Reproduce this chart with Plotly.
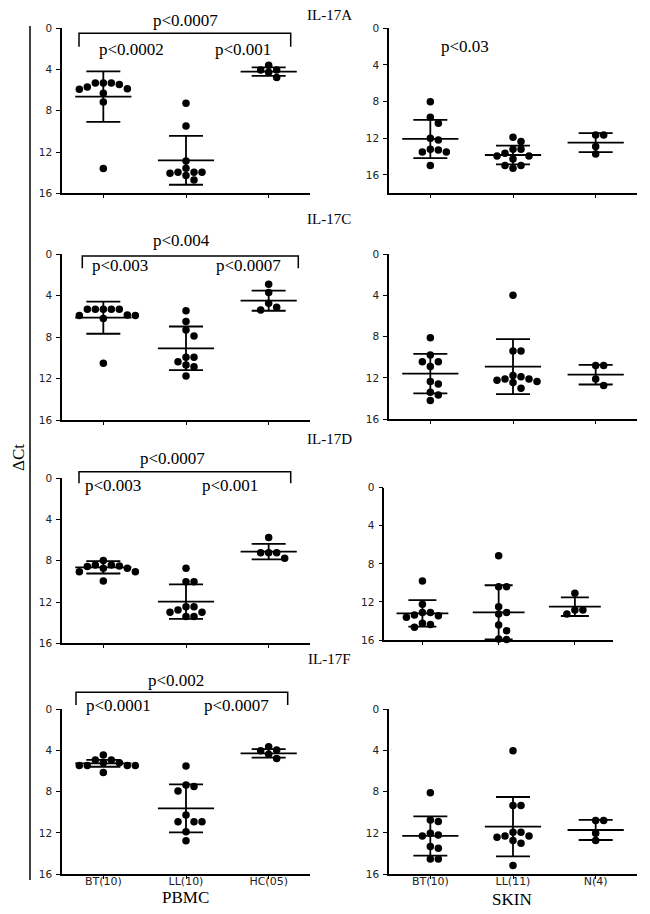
import plotly.graph_objects as go

W, H = 650, 914

genes = ["IL-17A", "IL-17C", "IL-17D", "IL-17F"]
pbmc_groups = ["BT(10)", "LL(10)", "HC(05)"]
skin_groups = ["BT(10)", "LL(11)", "N(4)"]
y_ticks = [0, 4, 8, 12, 16]

# dCt values, one list per group
pbmc_17a = [
    [5.3, 5.7, 6.3, 5.3, 5.3, 5.85, 5.45, 5.9, 7.15, 13.6],
    [7.27, 9.47, 12.86, 13.96, 13.96, 13.96, 13.57, 14.05, 14.28, 14.7],
    [4.04, 3.59, 4.27, 4.04, 4.78],
]
pbmc_17a_mean = [6.63, 12.8, 4.2]
pbmc_17a_sd = [2.45, 2.37, 0.41]

skin_17a = [
    [8.0, 9.7, 10.36, 12.18, 12.0, 13.2, 13.5, 13.5, 13.27, 14.98],
    [12.36, 11.89, 13.2, 13.93, 13.93, 13.64, 13.2, 14.25, 14.98, 15.27, 14.98],
    [11.64, 11.64, 12.9, 13.7],
]
skin_17a_mean = [12.07, 13.82, 12.47]
skin_17a_sd = [2.09, 1.02, 1.04]

pbmc_17c = [
    [5.31, 5.31, 5.92, 5.92, 6.21, 5.31, 5.86, 5.31, 5.31, 10.53],
    [5.44, 6.5, 7.31, 7.89, 9.95, 10.37, 10.69, 9.95, 10.85, 11.75],
    [2.9, 3.7, 4.73, 5.38, 5.12],
]
pbmc_17c_mean = [6.12, 9.08, 4.48]
pbmc_17c_sd = [1.55, 2.11, 0.97]

skin_17c = [
    [8.1, 9.77, 10.42, 10.42, 10.9, 12.35, 12.58, 13.39, 13.65, 14.19],
    [4.0, 9.39, 9.39, 12.1, 12.1, 12.45, 11.87, 11.75, 12.35, 12.23, 13.0],
    [10.8, 10.8, 12.1, 12.74],
]
skin_17c_mean = [11.58, 10.9, 11.68]
skin_17c_sd = [1.92, 2.66, 0.95]

pbmc_17d = [
    [8.4, 8.73, 9.05, 9.05, 7.98, 8.56, 8.4, 8.73, 9.95, 8.5],
    [8.73, 10.02, 10.02, 12.77, 12.99, 12.45, 12.45, 13.41, 13.41, 12.99],
    [5.75, 7.21, 7.21, 7.21, 7.76],
]
pbmc_17d_mean = [8.63, 11.96, 7.11]
pbmc_17d_sd = [0.6, 1.68, 0.76]

skin_17d = [
    [9.8, 12.25, 13.1, 13.45, 13.62, 13.38, 13.1, 14.25, 14.67, 14.36],
    [7.14, 10.4, 10.4, 12.5, 13.1, 13.27, 14.43, 15.02, 15.9, 16.1, 15.95],
    [11.1, 12.85, 13.27, 12.85],
]
skin_17d_mean = [13.2, 13.1, 12.5]
skin_17d_sd = [1.39, 2.85, 0.98]

pbmc_17f = [
    [4.44, 5.47, 4.92, 5.47, 5.2, 4.92, 5.47, 5.2, 5.47, 6.15],
    [5.5, 7.51, 7.35, 7.94, 10.27, 10.92, 10.92, 10.92, 11.89, 12.76],
    [4.02, 3.63, 4.37, 3.95, 4.79],
]
pbmc_17f_mean = [5.25, 9.62, 4.28]
pbmc_17f_sd = [0.33, 2.33, 0.42]

skin_17f = [
    [8.1, 10.74, 10.9, 12.03, 12.19, 12.29, 13.32, 13.48, 14.52, 14.52],
    [4.03, 9.35, 9.35, 12.29, 12.74, 11.94, 11.94, 13.0, 12.42, 12.29, 15.16],
    [10.8, 10.8, 12.03, 12.74],
]
skin_17f_mean = [12.29, 11.39, 11.71]
skin_17f_sd = [1.9, 2.87, 0.97]

panels = [
    (pbmc_17a, pbmc_17a_mean, pbmc_17a_sd),
    (skin_17a, skin_17a_mean, skin_17a_sd),
    (pbmc_17c, pbmc_17c_mean, pbmc_17c_sd),
    (skin_17c, skin_17c_mean, skin_17c_sd),
    (pbmc_17d, pbmc_17d_mean, pbmc_17d_sd),
    (skin_17d, skin_17d_mean, skin_17d_sd),
    (pbmc_17f, pbmc_17f_mean, pbmc_17f_sd),
    (skin_17f, skin_17f_mean, skin_17f_sd),
]

# panel boxes in page pixels: x left, x right, y of 0, y of bottom, bottom value
geo = [
    (62, 310, 28.3, 193.3, 16),
    (389, 637, 28.3, 193.3, 18),
    (62, 310, 254.3, 420, 16),
    (389, 637, 254, 419.3, 16),
    (62, 310, 478.3, 643.3, 16),
    (384.3, 613, 487.7, 640, 16),
    (62, 310, 709.3, 874, 16),
    (389, 637, 709, 874.3, 16),
]

SERIF = "Liberation Serif"
SANS = "DejaVu Sans"

# the page body has an 8px margin, so pull everything back by that much
OFF = 8


def px(x):
    return (x - OFF) / W


def py(y):
    return 1 - (y - OFF) / H


def swarm(vals, px_y, px_x, step=8, d=7):
    # simple beeswarm: spread points sideways so markers don't overlap
    order = sorted(range(len(vals)), key=lambda i: vals[i])
    cand = [0]
    for k in range(1, 8):
        cand += [k, -k]
    placed = []
    offs = [0.0] * len(vals)
    for i in order:
        yy = vals[i] * px_y
        xx = 0
        for c in cand:
            xx = c * step
            if all((xx - a) ** 2 + (yy - b) ** 2 >= d * d for a, b in placed):
                break
        placed.append((xx, yy))
        offs[i] = xx / px_x
    return offs


fig = go.Figure()
layout = {}

for k, ((groups, means, sds), (x0, x1, y0, y1, ymax)) in enumerate(zip(panels, geo), start=1):
    xa = "x" if k == 1 else "x%d" % k
    ya = "y" if k == 1 else "y%d" % k
    px_x = (x1 - x0) / 3
    px_y = (y1 - y0) / ymax
    cap = 14 if k == 6 else 17

    xs, ys = [], []
    for gi, vals in enumerate(groups):
        offs = swarm(vals, px_y, px_x)
        xs += [gi + o for o in offs]
        ys += vals
    fig.add_trace(go.Scatter(
        x=xs, y=ys, mode="markers", xaxis=xa, yaxis=ya, cliponaxis=False,
        marker=dict(size=7.5, color="black"), showlegend=False, hoverinfo="y",
    ))
    fig.add_trace(go.Scatter(
        x=[0, 1, 2], y=means, mode="markers", xaxis=xa, yaxis=ya, cliponaxis=False,
        marker=dict(size=1, color="rgba(0,0,0,0)"), showlegend=False,
        error_x=dict(type="constant", value=0.34, width=0, thickness=1.8, color="black"),
        error_y=dict(type="data", array=sds, width=cap, thickness=1.8, color="black"),
    ))

    bottom_row = k >= 7
    labels = pbmc_groups if k % 2 == 1 else skin_groups
    sfx = "" if k == 1 else str(k)
    layout["xaxis" + sfx] = dict(
        domain=[px(x0), px(x1)], range=[-0.5, 2.5], anchor=ya,
        tickvals=[0, 1, 2], ticktext=labels, showticklabels=bottom_row,
        ticks="outside", ticklen=3, tickwidth=1.3, tickcolor="black",
        ticklabelstandoff=-7,
        showline=True, linecolor="black", linewidth=1.5,
        showgrid=False, zeroline=False,
        tickfont=dict(family=SANS, size=11, color="#222"),
    )
    layout["yaxis" + sfx] = dict(
        domain=[py(y1), py(y0)], range=[ymax, 0], anchor=xa,
        tickvals=y_ticks, ticks="outside", ticklen=4, tickwidth=1.3, tickcolor="black",
        showline=True, linecolor="black", linewidth=1.5,
        showgrid=False, zeroline=False, ticklabelstandoff=2,
        tickfont=dict(family=SANS, size=10.5, color="#222"),
    )

fig.update_layout(**layout)

# text: (label, x px, y px, size)
texts = [
    ("IL-17A", 329, 15, 15), ("IL-17C", 329, 219, 15),
    ("IL-17D", 329, 439, 15), ("IL-17F", 329, 659, 15),
    ("p<0.0007", 185, 20, 17), ("p<0.0002", 131.7, 50, 17), ("p<0.001", 242.7, 50, 17),
    ("p<0.03", 465, 46.7, 17),
    ("p<0.004", 181.7, 240.7, 17), ("p<0.003", 120, 265.7, 17), ("p<0.0007", 248.3, 265.7, 17),
    ("p<0.0007", 172.7, 458.3, 17), ("p<0.003", 113.3, 485, 17), ("p<0.001", 230, 485, 17),
    ("p<0.002", 175.7, 680, 17), ("p<0.0001", 118.3, 705.7, 17), ("p<0.0007", 236.7, 705.7, 17),
    ("PBMC", 185, 897, 17), ("SKIN", 512, 899, 17),
]
for t, x, y, s in texts:
    fig.add_annotation(text=t, x=px(x), y=py(y), xref="paper", yref="paper",
                       showarrow=False, xanchor="center", yanchor="middle",
                       font=dict(family=SERIF, size=s, color="black"))

fig.add_annotation(text="ΔCt", x=px(18), y=py(458), xref="paper", yref="paper",
                   showarrow=False, textangle=-90, xanchor="center", yanchor="middle",
                   borderpad=0, font=dict(family=SERIF, size=17, color="black"))

# significance brackets: x left, x right, y bar, y of end ticks
brackets = [
    (79, 290.7, 33.3, 46.7),
    (82.3, 298.3, 256, 268.3),
    (79, 290.7, 471.7, 483.3),
    (76, 287.7, 692.3, 705),
]
for bx0, bx1, by, be in brackets:
    fig.add_shape(type="path", xref="paper", yref="paper",
                  path="M %f,%f L %f,%f L %f,%f L %f,%f" % (
                      px(bx0), py(be), px(bx0), py(by), px(bx1), py(by), px(bx1), py(be)),
                  line=dict(color="black", width=1.5))

fig.add_shape(type="line", xref="paper", yref="paper",
              x0=px(30), x1=px(30), y0=py(26), y1=py(880),
              line=dict(color="black", width=1.5))

fig.update_layout(
    width=W, height=H, autosize=False,
    margin=dict(l=0, r=0, t=0, b=0, autoexpand=False),
    paper_bgcolor="white", plot_bgcolor="white",
    showlegend=False,
)

fig.write_html("out.html")
